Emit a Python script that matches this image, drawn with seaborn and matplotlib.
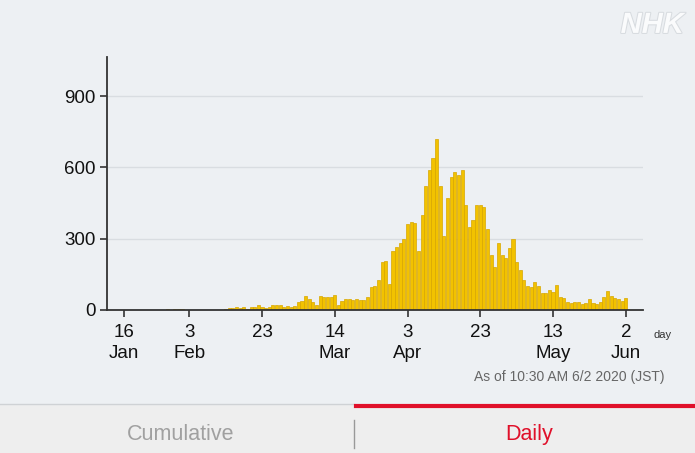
import pandas as pd
import numpy as np
import matplotlib.pyplot as plt
import seaborn as sns
import matplotlib.patheffects as pe

# daily new cases, Jan 16 -> Jun 2 2020
dates = pd.date_range('2020-01-16', '2020-06-02', freq='D')
cases = [
    1, 0, 0, 0, 0, 0, 0, 0, 1, 1, 1, 0, 3, 1, 3, 3,              # Jan 16-31
    2, 0, 0, 1, 0, 1, 0, 0, 0, 0, 1, 1, 4, 9, 8, 12, 6, 10, 5,   # Feb 1-19
    11, 13, 22, 11, 9, 13, 19, 22, 20, 13,                       # Feb 20-29
    15, 13, 18, 33, 37, 57, 45, 34, 22, 59, 54, 55, 54, 61, 19,  # Mar 1-15
    37, 47, 44, 40, 45, 42, 40, 55, 95, 100, 125, 200, 205, 110,
    250, 265,                                                    # Mar 16-31
    280, 300, 360, 370, 365, 250, 400, 520, 590, 640, 720, 520,
    310, 470, 560, 580, 570, 590, 440, 350, 380, 440, 440, 435,
    340, 230, 180, 280, 230, 220,                                # Apr
    260, 300, 200, 170, 125, 100, 95, 118, 100, 72, 70, 84, 75,
    105, 56, 50, 35, 30, 32, 35, 25, 28, 45, 28, 25, 35, 55, 78,
    60, 48, 45,                                                  # May
    38, 52,                                                      # Jun 1-2
]

tick_days = ['2020-01-16', '2020-02-03', '2020-02-23', '2020-03-14',
             '2020-04-03', '2020-04-23', '2020-05-13', '2020-06-02']
tick_labels = ['16\nJan', '3\nFeb', '23', '14\nMar', '3\nApr', '23', '13\nMay', '2\nJun']
y_ticks = [0, 300, 600, 900]

df = pd.DataFrame({'day': np.arange(len(dates)), 'cases': cases})

bg = '#edf0f3'
plt.rcParams['font.family'] = ['Liberation Sans', 'DejaVu Sans']

fig = plt.figure(figsize=(6.95, 4.53), dpi=100)
fig.patch.set_facecolor(bg)
ax = fig.add_axes([0.154, 0.316, 0.771, 0.558])
ax.set_facecolor(bg)

sns.barplot(data=df, x='day', y='cases', color='#f2c200', width=0.85,
            edgecolor='#d8a600', linewidth=0.5, saturation=1, ax=ax, zorder=2)

ax.set_xlim(-4.6, len(dates) - 1 + 4.7)
ax.set_ylim(0, 1065)
ax.set_yticks(y_ticks)
ax.set_yticklabels([str(v) for v in y_ticks], fontsize=13.5, color='#111111')
ax.yaxis.grid(True, color='#d9dde1', linewidth=1, zorder=0)
ax.set_axisbelow(True)

pos = [dates.get_loc(pd.Timestamp(d)) for d in tick_days]
ax.set_xticks(pos)
ax.set_xticklabels(tick_labels, fontsize=13.5, color='#111111', linespacing=1.35)
ax.set_xlabel('')
ax.set_ylabel('')
ax.tick_params(axis='both', length=5, width=1.2, color='#333333')
ax.tick_params(axis='x', pad=5)
ax.tick_params(axis='y', pad=3)

for s in ['top', 'right']:
    ax.spines[s].set_visible(False)
for s in ['left', 'bottom']:
    ax.spines[s].set_color('#333333')
    ax.spines[s].set_linewidth(1.3)

fig.text(0.953, 0.26, 'day', fontsize=8, color='#333333', ha='center', va='center')
fig.text(0.819, 0.168, 'As of 10:30 AM 6/2 2020 (JST)', fontsize=10,
         color='#666666', ha='center', va='center')

# watermark, cut off at the right edge
fig.text(0.893, 0.945, 'NHK', fontsize=21, fontweight='bold', fontstyle='italic',
         color='#fafbfc', ha='left', va='center',
         path_effects=[pe.withStroke(linewidth=1.5, foreground='#d8dce0')])

# tab bar at the bottom
fig.patches.append(plt.Rectangle((0, 0), 1, 0.108, transform=fig.transFigure,
                                 facecolor='#eeeeee', edgecolor='none', zorder=0))
fig.add_artist(plt.Line2D([0, 0.51], [0.108, 0.108], color='#cfd2d5', linewidth=1))
fig.add_artist(plt.Line2D([0.512, 1], [0.103, 0.103], color='#e0102a', linewidth=3))
fig.add_artist(plt.Line2D([0.51, 0.51], [0.012, 0.072], color='#999999', linewidth=1))
fig.text(0.26, 0.04, 'Cumulative', fontsize=15.5, color='#a0a0a0', ha='center', va='center')
fig.text(0.762, 0.04, 'Daily', fontsize=15.5, color='#e0102a', ha='center', va='center')

plt.savefig('out.png', dpi=100, facecolor=bg)
